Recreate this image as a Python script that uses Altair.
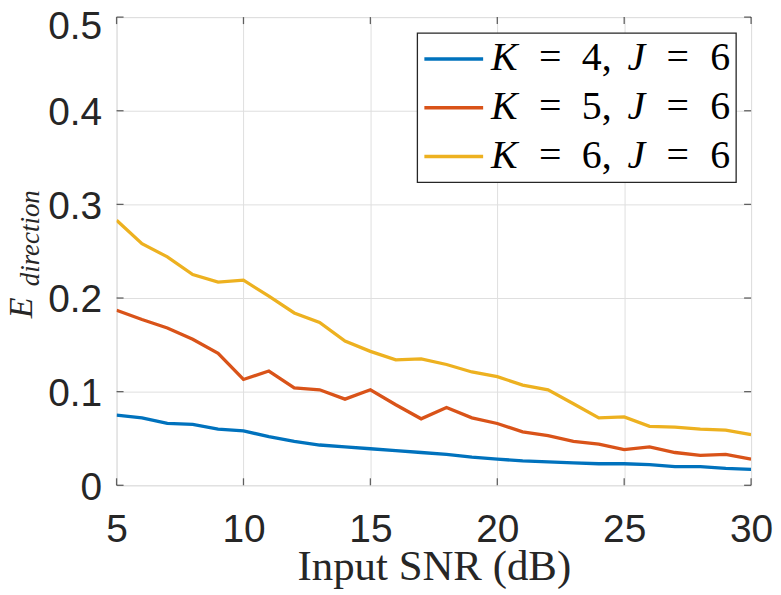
import altair as alt
import pandas as pd

snr = list(range(5, 31))
k4 = [0.075, 0.072, 0.066, 0.065, 0.060, 0.058, 0.052, 0.047, 0.043, 0.041, 0.039, 0.037, 0.035,
      0.033, 0.030, 0.028, 0.026, 0.025, 0.024, 0.023, 0.023, 0.022, 0.020, 0.020, 0.018, 0.017]
k5 = [0.187, 0.177, 0.168, 0.156, 0.141, 0.113, 0.122, 0.104, 0.102, 0.092, 0.102, 0.086, 0.071,
      0.083, 0.072, 0.066, 0.057, 0.053, 0.047, 0.044, 0.038, 0.041, 0.035, 0.032, 0.033, 0.028]
k6 = [0.283, 0.258, 0.244, 0.225, 0.217, 0.219, 0.202, 0.184, 0.174, 0.154, 0.143, 0.134, 0.135,
      0.129, 0.121, 0.116, 0.107, 0.102, 0.087, 0.072, 0.073, 0.063, 0.062, 0.060, 0.059, 0.054]
k_values = [4, 5, 6]
j_value = 6
series_names = ["K = 4, J = 6", "K = 5, J = 6", "K = 6, J = 6"]
series_colors = ["#0072BD", "#D95319", "#EDB120"]
x_ticks = [5, 10, 15, 20, 25, 30]
y_ticks = [0, 0.1, 0.2, 0.3, 0.4, 0.5]

rows = []
for name, vals in zip(series_names, [k4, k5, k6]):
    for s, v in zip(snr, vals):
        rows.append({"snr": s, "err": v, "series": name})
df = pd.DataFrame(rows)

W, H = 637, 470
AX = "#262626"

xscale = alt.Scale(domain=[5, 30], nice=False, zero=False)
yscale = alt.Scale(domain=[0, 0.5], nice=False)

lines = alt.Chart(df).mark_line(strokeWidth=3.3, clip=True).encode(
    x=alt.X("snr:Q", scale=xscale,
            axis=alt.Axis(values=x_ticks, title="Input SNR (dB)", grid=True, gridColor="#dfdfdf",
                          domain=False, ticks=False, labelFont="Liberation Sans", labelFontSize=39,
                          labelColor=AX, labelPadding=25, labelFlush=False,
                          titleFont="Liberation Serif", titleFontSize=43, titleFontWeight="normal",
                          titleColor=AX, titleBaseline="alphabetic", titleY=95)),
    y=alt.Y("err:Q", scale=yscale,
            axis=alt.Axis(values=y_ticks, title="", grid=True, gridColor="#dfdfdf",
                          domain=False, ticks=False, labelFont="Liberation Sans", labelFontSize=39,
                          labelColor=AX, labelPadding=15,
                          labelOffset={"condition": {"test": "datum.value >= 0.45", "value": 9}, "value": 2},
                          labelExpr="datum.value == 0 ? '0' : format(datum.value, '.1f')")),
    color=alt.Color("series:N", scale=alt.Scale(domain=series_names, range=series_colors), legend=None),
)

xt = pd.DataFrame({"snr": x_ticks})
yt = pd.DataFrame({"err": y_ticks})
tick_style = dict(color=AX, thickness=1.3, size=7)
xb = alt.Chart(xt).mark_tick(**tick_style).encode(x=alt.X("snr:Q", scale=xscale), y=alt.value(H - 3.5))
xtop = alt.Chart(xt).mark_tick(**tick_style).encode(x=alt.X("snr:Q", scale=xscale), y=alt.value(3.5))
yl = alt.Chart(yt).mark_tick(**tick_style).encode(y=alt.Y("err:Q", scale=yscale), x=alt.value(3.5))
yr = alt.Chart(yt).mark_tick(**tick_style).encode(y=alt.Y("err:Q", scale=yscale), x=alt.value(W - 3.5))

ylab_main = alt.Chart(pd.DataFrame({"t": ["E"]})).mark_text(
    angle=270, font="Liberation Serif", fontStyle="italic", fontSize=34, color=AX,
    align="center", baseline="alphabetic").encode(text="t:N", x=alt.value(-85), y=alt.value(292))
ylab_sub = alt.Chart(pd.DataFrame({"t": ["direction"]})).mark_text(
    angle=270, font="Liberation Serif", fontStyle="italic", fontSize=27, color=AX,
    align="center", baseline="alphabetic").encode(text="t:N", x=alt.value(-78), y=alt.value(222))

# legend box
one = pd.DataFrame({"a": [0]})
box = alt.Chart(one).mark_rect(fill="white", stroke=AX, strokeWidth=1.3).encode(
    x=alt.value(302), x2=alt.value(622), y=alt.value(16), y2=alt.value(166))

legend_layers = [box]
for i, (k, col) in enumerate(zip(k_values, series_colors)):
    rdf = pd.DataFrame({"k": [k], "j": [j_value]})
    base_y = 53 + 49 * i
    legend_layers.append(alt.Chart(rdf).mark_rule(color=col, strokeWidth=3.5).encode(
        x=alt.value(309), x2=alt.value(368), y=alt.value(42 + 49 * i)))
    pieces = [
        ("'K'", 376, "italic"),
        ("'='", 424, "normal"),
        ("datum.k + ','", 467, "normal"),
        ("'J'", 513, "italic"),
        ("'='", 552, "normal"),
        ("'' + datum.j", 596, "normal"),
    ]
    for n, (expr, px, style) in enumerate(pieces):
        legend_layers.append(alt.Chart(rdf).transform_calculate(lbl=expr).mark_text(
            font="Liberation Serif", fontStyle=style, fontSize=40, color="black",
            align="left", baseline="alphabetic").encode(
            text="lbl:N", x=alt.value(px), y=alt.value(base_y)))

chart = alt.layer(lines, xb, xtop, yl, yr, ylab_main, ylab_sub, *legend_layers).properties(
    width=W, height=H,
    autosize=alt.AutoSizeParams(type="none"),
    padding={"left": 109, "top": 8, "right": 22, "bottom": 106},
).configure_view(stroke=AX, strokeWidth=1.3).configure(background="white")

chart.save("out.html", embed_options={"renderer": "svg", "actions": False})
